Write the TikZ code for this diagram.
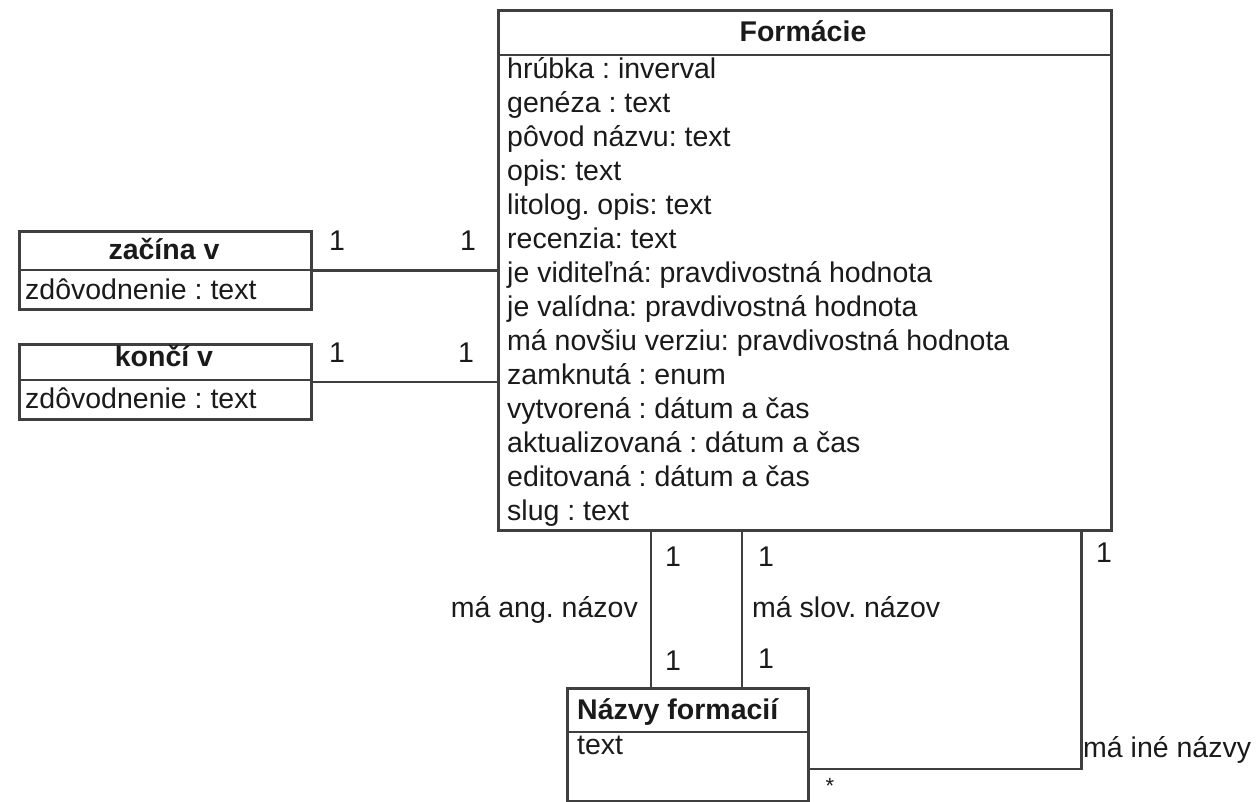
\documentclass[tikz,border=0pt]{standalone}
\usepackage{fontspec}
\setmainfont{Liberation Sans}
\definecolor{lc}{HTML}{3F3F3F}
\definecolor{tc}{HTML}{1A1A1A}
\frenchspacing
\begin{document}
\frenchspacing
\begin{tikzpicture}[x=1pt,y=-1pt,
  conn/.style={draw=lc, line width=2.6pt},
  cls/.style={draw=lc, line width=2.6pt, fill=white, rectangle, inner sep=0pt, anchor=north west},
  txt/.style={inner sep=0pt, text=tc, font=\fontsize{28.5}{34}\selectfont\frenchspacing},
  ttl/.style={txt, font=\fontsize{28.5}{34}\selectfont\bfseries},
  mult/.style={txt, anchor=base}]
\useasboundingbox (0,0) rectangle (1258,801);
% class boxes
\node[cls, minimum width=613pt, minimum height=520pt] (form) at (497,9) {};
\node[cls, minimum width=292pt, minimum height=78pt] (zac) at (18,230) {};
\node[cls, minimum width=292pt, minimum height=75pt] (konci) at (18,343) {};
\node[cls, minimum width=241pt, minimum height=113pt] (nazvy) at (566,687) {};
% dividers
\draw[conn] ([yshift=-46pt]form.north west) -- ([yshift=-46pt]form.north east);
\draw[conn] ([yshift=-40pt]zac.north west) -- ([yshift=-40pt]zac.north east);
\draw[conn] ([yshift=-37pt]konci.north west) -- ([yshift=-37pt]konci.north east);
\draw[conn] ([yshift=-45pt]nazvy.north west) -- ([yshift=-45pt]nazvy.north east);
% titles
\node[ttl, anchor=base] (formT) at (803,41) {Formácie};
\node[ttl, anchor=base] (zacT) at (164,259) {začína v};
\node[ttl, anchor=base] (konciT) at (164,366) {končí v};
\node[ttl, anchor=base west] (nazvyT) at (577,719) {Názvy formacií};
% attributes
\node[txt, anchor=base west] (zacA) at (25,299) {zdôvodnenie : text};
\node[txt, anchor=base west] (konciA) at (25,408) {zdôvodnenie : text};
\node[txt, anchor=base west] (nazvyA) at (577,754) {text};
\foreach \t [count=\i from 0] in {hrúbka : inverval, genéza : text, pôvod názvu: text, opis: text, litolog. opis: text, recenzia: text, je viditeľná: pravdivostná hodnota, je valídna: pravdivostná hodnota, má novšiu verziu: pravdivostná hodnota, zamknutá : enum, vytvorená : dátum a čas, aktualizovaná : dátum a čas, editovaná : dátum a čas, slug : text}{
  \node[txt, anchor=base west] (r\i) at (507,{78+34*\i}) {\t};
}
% connectors
\coordinate (ineE) at ([yshift=-82pt]nazvy.north east);
\draw[conn] (zac.east) -- (form.west |- zac.east);
\draw[conn] (konci.east) -- (form.west |- konci.east);
\draw[conn] ([xshift=85pt]nazvy.north west) -- ([xshift=85pt]nazvy.north west |- form.south);
\draw[conn] ([xshift=176pt]nazvy.north west) -- ([xshift=176pt]nazvy.north west |- form.south);
\draw[conn] ([xshift=-31pt]form.south east) |- (ineE);
% multiplicities
\node[mult] (m1) at (337,250) {1};
\node[mult] (m2) at (468,250) {1};
\node[mult] (m3) at (337,362) {1};
\node[mult] (m4) at (466,362) {1};
\node[mult] (m5) at (673,566) {1};
\node[mult] (m6) at (673,670) {1};
\node[mult] (m7) at (766,566) {1};
\node[mult] (m8) at (766,668) {1};
\node[mult] (m9) at (1104,562) {1};
\node[txt, font=\fontsize{22}{24}\selectfont, anchor=center] (star) at (830,786) {*};
% association names
\node[txt, anchor=base east] (ang) at (638,617) {má ang. názov};
\node[txt, anchor=base west] (slov) at (752,617) {má slov. názov};
\node[txt, anchor=base west] (ine) at (1083,757) {má iné názvy};
\end{tikzpicture}
\end{document}
